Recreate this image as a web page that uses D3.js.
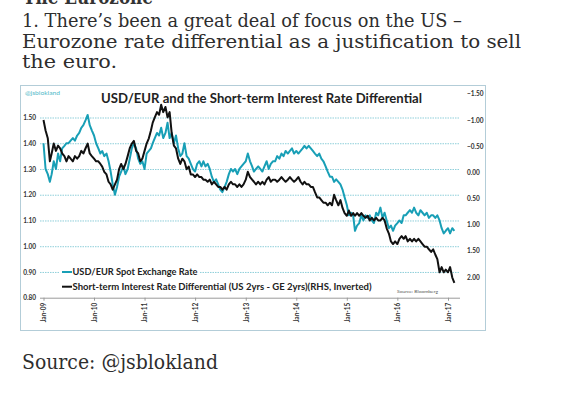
<!DOCTYPE html>
<html><head><meta charset="utf-8">
<script src="https://cdn.jsdelivr.net/npm/d3@7"></script>
<style>html,body{margin:0;padding:0;background:#fff;}svg{display:block;}</style>
</head><body>
<script>
// ---- DATA ----
const leftTicks = [0.80, 0.90, 1.00, 1.10, 1.20, 1.30, 1.40, 1.50];
const rightTicks = [-1.50, -1.00, -0.50, 0.00, 0.50, 1.00, 1.50, 2.00];
const yearTicks = [2009, 2010, 2011, 2012, 2013, 2014, 2015, 2016, 2017];
// semi-monthly observations (1st and 16th of each month) from Jan 2009 to Feb 2017
const usdEur = [
1.40,1.30,1.28,1.25,1.28,1.33,1.30,1.36,1.33,1.38,1.39,1.40,1.40,1.41,1.42,1.41,1.43,1.44,1.46,1.47,1.49,1.51,1.47,1.45,
1.43,1.40,1.38,1.36,1.37,1.35,1.36,1.33,1.29,1.24,1.20,1.23,1.27,1.29,1.31,1.28,1.30,1.34,1.38,1.40,1.38,1.34,1.32,1.33,
1.30,1.36,1.37,1.38,1.40,1.42,1.44,1.43,1.46,1.42,1.44,1.48,1.42,1.44,1.40,1.43,1.38,1.35,1.36,1.40,1.35,1.34,1.32,1.30,
1.29,1.32,1.33,1.31,1.33,1.31,1.32,1.30,1.27,1.25,1.26,1.24,1.22,1.21,1.23,1.25,1.28,1.30,1.29,1.30,1.28,1.30,1.31,1.32,
1.33,1.36,1.33,1.31,1.29,1.30,1.31,1.30,1.29,1.31,1.33,1.30,1.32,1.33,1.33,1.35,1.34,1.36,1.35,1.37,1.36,1.37,1.38,1.36,
1.37,1.36,1.37,1.38,1.39,1.38,1.39,1.38,1.37,1.36,1.35,1.36,1.34,1.33,1.31,1.29,1.27,1.27,1.25,1.26,1.25,1.24,1.22,1.19,
1.16,1.12,1.13,1.12,1.06,1.08,1.09,1.12,1.10,1.12,1.11,1.12,1.10,1.09,1.13,1.12,1.15,1.11,1.13,1.10,1.07,1.08,1.06,1.08,
1.09,1.10,1.09,1.12,1.12,1.13,1.14,1.13,1.15,1.13,1.12,1.14,1.13,1.12,1.13,1.11,1.12,1.12,1.11,1.12,1.10,1.07,1.05,1.06,
1.07,1.05,1.07,1.06
];
const rateDiff = [
-1.00,-0.80,-0.65,-0.21,-0.36,-0.55,-0.41,-0.51,-0.46,-0.36,-0.31,-0.21,-0.31,-0.26,-0.21,-0.31,-0.26,-0.31,-0.41,-0.36,-0.46,-0.55,-0.36,-0.31,
-0.26,-0.21,-0.21,-0.16,-0.11,-0.01,0.04,0.18,0.23,0.33,0.23,0.14,-0.06,-0.16,-0.06,-0.16,-0.31,-0.46,-0.55,-0.60,-0.41,-0.36,-0.21,-0.26,
-0.41,-0.55,-0.65,-0.80,-0.95,-1.05,-1.15,-1.10,-1.29,-1.15,-1.25,-1.05,-1.15,-0.75,-0.51,-0.46,-0.26,-0.16,-0.26,-0.21,-0.06,-0.11,0.04,0.04,
0.09,0.04,0.09,0.09,0.14,0.14,0.18,0.14,0.23,0.18,0.23,0.28,0.28,0.33,0.28,0.33,0.23,0.18,0.23,0.23,0.28,0.23,0.28,0.23,
0.14,-0.01,0.09,0.14,0.18,0.23,0.18,0.23,0.18,0.23,0.14,0.09,0.18,0.14,0.14,0.18,0.14,0.09,0.14,0.18,0.14,0.09,0.14,0.18,
0.14,0.09,0.18,0.23,0.18,0.23,0.23,0.28,0.28,0.38,0.48,0.48,0.53,0.58,0.58,0.63,0.58,0.63,0.43,0.53,0.63,0.53,0.68,0.78,
0.83,0.73,0.83,0.78,0.83,0.78,0.83,0.78,0.83,0.87,0.83,0.92,0.87,0.92,0.87,0.92,0.92,0.87,0.92,1.07,1.17,1.32,1.37,1.32,
1.37,1.27,1.22,1.27,1.22,1.32,1.27,1.32,1.27,1.32,1.27,1.32,1.37,1.42,1.42,1.47,1.52,1.47,1.57,1.66,1.91,1.81,1.91,1.86,
1.91,1.81,2.01,2.11
];
const seriesNames = ["USD/EUR Spot Exchange Rate", "Short-term Interest Rate Differential (US 2yrs - GE 2yrs)(RHS, Inverted)"];

// ---- DRAW ----
const W = 577, H = 395;
const svg = d3.select("body").append("svg").attr("width", W).attr("height", H);
const serif = "'DejaVu Serif', 'Liberation Serif', serif";
const sans = "Lato, 'Open Sans', sans-serif";
const teal = "#189fb6";

// article text
svg.append("text").attr("x", 23).attr("y", 4).attr("font-family", serif).attr("font-weight", "bold")
  .attr("font-size", 20).attr("fill", "#333").attr("textLength", 130).attr("lengthAdjust", "spacingAndGlyphs").text("The Eurozone");
const para = [
  {t: "1. There\u2019s been a great deal of focus on the US \u2013", y: 27, w: 440},
  {t: "Eurozone rate differential as a justification to sell", y: 48, w: 499},
  {t: "the euro.", y: 68, w: 95}
];
para.forEach(p => svg.append("text").attr("x", 22).attr("y", p.y).attr("font-family", serif)
  .attr("font-size", 19).attr("fill", "#2e2e2e").attr("textLength", p.w).attr("lengthAdjust", "spacingAndGlyphs").text(p.t));
svg.append("text").attr("x", 22).attr("y", 369).attr("font-family", serif)
  .attr("font-size", 20).attr("fill", "#2e2e2e").attr("textLength", 196).attr("lengthAdjust", "spacingAndGlyphs").text("Source: @jsblokland");

// chart frame
svg.append("rect").attr("x", 20.5).attr("y", 85.5).attr("width", 465).attr("height", 245)
  .attr("fill", "#fff").attr("stroke", "#b3cdd8").attr("stroke-width", 1);

const x = d3.scaleTime().domain([new Date(2009, 0, 1), new Date(2017, 0, 1)]).range([43.5, 448]);
const yL = d3.scaleLinear().domain([0.8, 1.5]).range([297.7, 117.5]);
const yR = d3.scaleLinear().domain([-1.0, 2.0]).range([120, 277]);
const dates = usdEur.map((v, i) => new Date(2009, Math.floor(i / 2), i % 2 ? 16 : 1));

// left axis with gridlines
const gL = svg.append("g").attr("transform", "translate(40,0)")
  .call(d3.axisLeft(yL).tickValues(leftTicks).tickFormat(d3.format(".2f")).tickSize(-420).tickPadding(4));
gL.select(".domain").remove();
gL.selectAll(".tick line").attr("stroke", "#8fcfda").attr("stroke-width", 1).attr("stroke-dasharray", "1.5,1");
gL.selectAll(".tick text").attr("font-family", sans).attr("font-weight", "bold").attr("font-size", 6.5).attr("fill", "#333");
gL.selectAll(".tick").filter(d => d === 0.8).select("line").attr("stroke", "#9a9a9a").attr("stroke-dasharray", null);

// right axis
const gR = svg.append("g").attr("transform", "translate(464,0)")
  .call(d3.axisRight(yR).tickValues(rightTicks).tickFormat(d3.format(".2f")).tickSize(0).tickPadding(3));
gR.select(".domain").remove();
gR.selectAll(".tick text").attr("font-family", sans).attr("font-weight", "bold").attr("font-size", 6.5).attr("fill", "#333");

// x axis
const gX = svg.append("g").attr("transform", `translate(0,${yL(0.8)})`)
  .call(d3.axisBottom(x).tickValues(yearTicks.map(y => new Date(y, 0, 1))).tickFormat(d3.timeFormat("Jan-%y")).tickSize(3));
gX.select(".domain").remove();
gX.selectAll(".tick line").attr("stroke", "#9a9a9a");
gX.selectAll(".tick text").attr("transform", "rotate(-90)").attr("text-anchor", "end")
  .attr("x", -5).attr("y", 0).attr("dy", "0.35em")
  .attr("font-family", sans).attr("font-weight", "bold").attr("font-size", 6.5).attr("fill", "#333");

// lines
const lineL = d3.line().x((d, i) => x(dates[i])).y(d => yL(d));
const lineR = d3.line().x((d, i) => x(dates[i])).y(d => yR(d));
svg.append("path").datum(usdEur).attr("d", lineL).attr("fill", "none").attr("stroke", teal)
  .attr("stroke-width", 2).attr("stroke-linejoin", "round");
svg.append("path").datum(rateDiff).attr("d", lineR).attr("fill", "none").attr("stroke", "#111")
  .attr("stroke-width", 2).attr("stroke-linejoin", "round");

// title & labels
svg.append("text").attr("x", 101).attr("y", 103).attr("font-family", sans).attr("font-weight", "bold")
  .attr("font-size", 12.5).attr("fill", "#222").attr("textLength", 321).attr("lengthAdjust", "spacingAndGlyphs")
  .text("USD/EUR and the Short-term Interest Rate Differential");
svg.append("text").attr("x", 25).attr("y", 95).attr("font-family", sans).attr("font-size", 5.5)
  .attr("fill", "#4fb8c8").attr("textLength", 35).attr("lengthAdjust", "spacingAndGlyphs").text("@jsblokland");
svg.append("text").attr("x", 397).attr("y", 293).attr("font-family", sans).attr("font-size", 4.5)
  .attr("fill", "#555").attr("textLength", 41).attr("lengthAdjust", "spacingAndGlyphs").text("Source: Bloomberg");

// legend
const legend = [
  {name: seriesNames[0], color: teal, y: 272, w: 125},
  {name: seriesNames[1], color: "#111", y: 286.7, w: 299}
];
legend.forEach(l => {
  svg.append("rect").attr("x", 60).attr("y", l.y - 5).attr("width", l.w + 14).attr("height", 10).attr("fill", "#fff");
  svg.append("line").attr("x1", 62).attr("x2", 72).attr("y1", l.y).attr("y2", l.y)
    .attr("stroke", l.color).attr("stroke-width", 2);
  svg.append("text").attr("x", 72.5).attr("y", l.y).attr("dy", "0.35em").attr("font-family", sans)
    .attr("font-weight", "bold").attr("font-size", 9.5).attr("fill", "#222")
    .attr("textLength", l.w).attr("lengthAdjust", "spacingAndGlyphs").text(l.name);
});
</script>
</body></html>
